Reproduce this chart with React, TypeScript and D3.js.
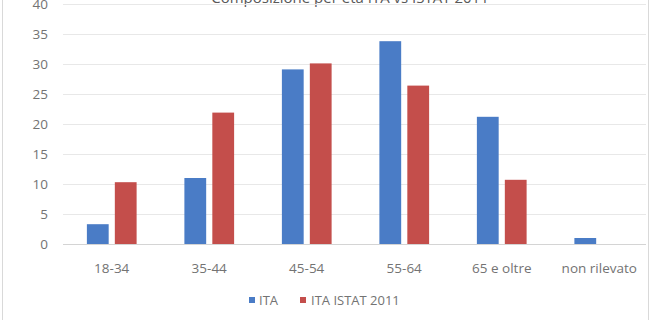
import React from "react";
import * as d3 from "d3";

const categories = ["18-34", "35-44", "45-54", "55-64", "65 e oltre", "non rilevato"];
const seriesNames = ["ITA", "ITA ISTAT 2011"];
const itaValues = [3.3, 11.0, 29.1, 33.8, 21.2, 1.0];
const istatValues = [10.3, 21.9, 30.1, 26.4, 10.7, 0];
const yTicks = [0, 5, 10, 15, 20, 25, 30, 35, 40];
const titleText = "Composizione per età ITA vs ISTAT 2011";

const W = 651;
const H = 320;
const colors = ["#4A7CC6", "#C44E4B"];
const font = "'Open Sans', 'Noto Sans', sans-serif";

export default function App() {
  const x0 = d3.scaleBand<string>().domain(categories).range([63, 648]).paddingInner(0.49).paddingOuter(0.245);
  const x1 = d3.scaleBand<string>().domain(seriesNames).range([0, x0.bandwidth()]).paddingInner(0.22);
  const y = d3.scaleLinear().domain([0, 40]).range([244, 4]);
  const series = [itaValues, istatValues];

  return (
    <svg width={W} height={H} style={{ position: "absolute", left: 0, top: 0, background: "#fff" }} fontFamily={font}>
      <rect x={0} y={0} width={W} height={H} fill="#fff" />
      <line x1={2.5} x2={2.5} y1={0} y2={H} stroke="#d9d9d9" />
      <line x1={648.5} x2={648.5} y1={0} y2={H} stroke="#d9d9d9" />
      <text x={350} y={3} textAnchor="middle" fontSize={15} fill="#595959">{titleText}</text>
      {yTicks.map((t) => (
        <g key={t}>
          <line x1={63} x2={646} y1={Math.round(y(t)) + 0.5} y2={Math.round(y(t)) + 0.5} stroke={t === 0 ? "#d4d4d4" : "#e8e8e8"} />
          <text x={48} y={y(t)} dy="0.35em" textAnchor="end" fontSize={13.5} fill="#737373">{t}</text>
        </g>
      ))}
      {categories.map((c, i) => (
        <g key={c} transform={`translate(${x0(c)},0)`}>
          {series.map((vals, s) => (
            <rect
              key={s}
              x={x1(seriesNames[s])}
              y={y(vals[i])}
              width={x1.bandwidth()}
              height={y(0) - y(vals[i])}
              fill={colors[s]}
            />
          ))}
          <text x={x0.bandwidth() / 2} y={268} dy="0.35em" textAnchor="middle" fontSize={13.5} fill="#737373">{c}</text>
        </g>
      ))}
      <g>
        <rect x={249} y={297} width={6} height={6} fill={colors[0]} />
        <text x={259} y={300} dy="0.35em" fontSize={13} fill="#737373">{seriesNames[0]}</text>
        <rect x={300} y={297} width={6} height={6} fill={colors[1]} />
        <text x={311} y={300} dy="0.35em" fontSize={13} fill="#737373">{seriesNames[1]}</text>
      </g>
    </svg>
  );
}
